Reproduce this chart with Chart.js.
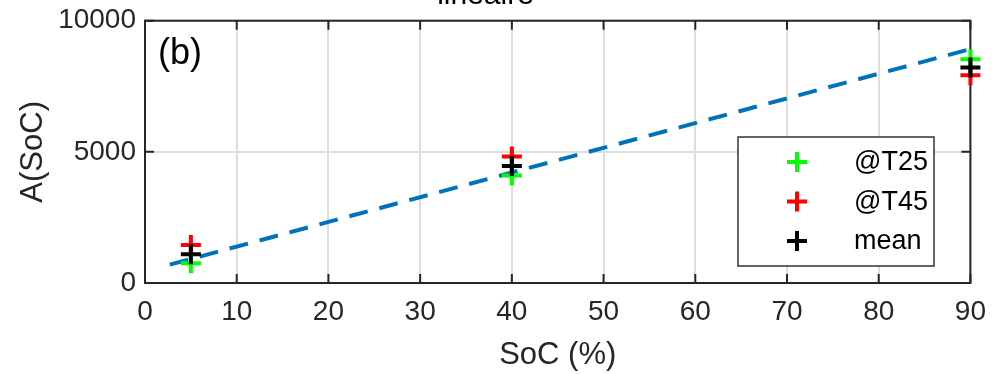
<!DOCTYPE html>
<html>
<head>
<meta charset="utf-8">
<script src="https://cdn.jsdelivr.net/npm/chart.js@4/dist/chart.umd.min.js"></script>
<style>
  html, body { margin: 0; padding: 0; background: #fff; overflow: hidden; }
  #wrap { width: 998px; height: 374px; overflow: hidden; position: relative; }
  #chart { position: absolute; left: 0; top: -30px; }
</style>
</head>
<body>
<div id="wrap"><canvas id="chart" width="998" height="404"></canvas></div>
<script>
// measured points
const soc = [5, 40, 90];
const aT25 = [750, 4100, 8530];
const aT45 = [1450, 4820, 7920];
const aMean = [1100, 4460, 8220];

// linear fit (dashed)
const fitSoc = [2.7, 90];
const fitA = [700, 8920];

const xTicks = [0, 10, 20, 30, 40, 50, 60, 70, 80, 90];
const yTicks = [0, 5000, 10000];

const FONT = "'Liberation Sans', Arial, sans-serif";
const AXIS = "#262626";

function pts(xs, ys) {
  return xs.map((x, i) => ({ x: x, y: ys[i] }));
}

// box + inward ticks, like matlab
const boxPlugin = {
  id: "box",
  beforeDatasetsDraw(chart) {
    const { ctx, chartArea: a, scales } = chart;
    ctx.save();
    ctx.strokeStyle = AXIS;
    ctx.lineWidth = 2;
    ctx.beginPath();
    xTicks.forEach(v => {
      const px = scales.x.getPixelForValue(v);
      ctx.moveTo(px, a.bottom); ctx.lineTo(px, a.bottom - 9);
      ctx.moveTo(px, a.top); ctx.lineTo(px, a.top + 9);
    });
    yTicks.forEach(v => {
      const py = scales.y.getPixelForValue(v);
      ctx.moveTo(a.left, py); ctx.lineTo(a.left + 9, py);
      ctx.moveTo(a.right, py); ctx.lineTo(a.right - 9, py);
    });
    ctx.stroke();
    ctx.strokeRect(a.left, a.top, a.right - a.left, a.bottom - a.top);
    ctx.restore();
  },
  afterDatasetsDraw(chart) {
    const { ctx } = chart;
    ctx.save();
    // panel label
    ctx.fillStyle = "#000";
    ctx.font = "36px " + FONT;
    ctx.textBaseline = "alphabetic";
    ctx.fillText("(b)", 158, 94);

    // legend box
    const lx = 738, ly = 167, lw = 196, lh = 129;
    ctx.fillStyle = "#fff";
    ctx.fillRect(lx, ly, lw, lh);
    ctx.strokeStyle = "#333";
    ctx.lineWidth = 1.5;
    ctx.strokeRect(lx, ly, lw, lh);
    const items = chart.data.datasets.filter(d => d.inLegend).reverse();
    ctx.font = "27px " + FONT;
    ctx.textBaseline = "middle";
    items.forEach((d, i) => {
      const cy = ly + 25 + i * 39.5;
      const cx = 797;
      ctx.strokeStyle = d.borderColor;
      ctx.lineWidth = 4;
      ctx.beginPath();
      ctx.moveTo(cx - 10, cy); ctx.lineTo(cx + 10, cy);
      ctx.moveTo(cx, cy - 10); ctx.lineTo(cx, cy + 10);
      ctx.stroke();
      ctx.fillStyle = "#000";
      ctx.fillText(d.label, 854, cy + 1);
    });
    ctx.restore();
  }
};

const markerStyle = {
  type: "scatter",
  showLine: false,
  pointStyle: "cross",
  pointRadius: 10,
  pointBorderWidth: 4,
  clip: false
};

new Chart(document.getElementById("chart"), {
  type: "scatter",
  data: {
    datasets: [
      Object.assign({ label: "mean", data: pts(soc, aMean), borderColor: "#000", backgroundColor: "#000", order: 0, inLegend: true }, markerStyle),
      Object.assign({ label: "@T45", data: pts(soc, aT45), borderColor: "#ff0000", backgroundColor: "#ff0000", order: 1, inLegend: true }, markerStyle),
      Object.assign({ label: "@T25", data: pts(soc, aT25), borderColor: "#00ff00", backgroundColor: "#00ff00", order: 2, inLegend: true }, markerStyle),
      {
        type: "line",
        label: "fit",
        data: pts(fitSoc, fitA),
        borderColor: "#0072bd",
        borderWidth: 4,
        borderDash: [19, 12],
        pointRadius: 0,
        fill: false,
        order: 3,
        clip: false
      }
    ]
  },
  options: {
    responsive: false,
    animation: false,
    devicePixelRatio: 1,
    layout: { padding: { left: 0, right: 27, top: 0, bottom: 0 } },
    plugins: {
      legend: { display: false },
      tooltip: { enabled: false },
      title: {
        display: true,
        text: "linéaire",
        color: "#000",
        font: { family: FONT, size: 30, weight: "normal", lineHeight: 1.2 },
        padding: { top: 7.5, bottom: 7.2 }
      }
    },
    scales: {
      x: {
        type: "linear",
        min: 0, max: 90,
        afterBuildTicks(scale) { scale.ticks = xTicks.map(v => ({ value: v })); },
        afterFit(scale) { scale.height = 91; },
        grid: { color: "#dedede", lineWidth: 2, drawTicks: false },
        border: { display: false },
        ticks: { color: AXIS, padding: 12, maxRotation: 0, font: { family: FONT, size: 28 } },
        title: {
          display: true, text: "SoC (%)", color: AXIS,
          font: { family: FONT, size: 31 }, padding: { top: 0, bottom: 0 }
        }
      },
      y: {
        type: "linear",
        min: 0, max: 10000,
        afterBuildTicks(scale) { scale.ticks = yTicks.map(v => ({ value: v })); },
        afterFit(scale) { scale.width = 145; },
        grid: { color: "#dedede", lineWidth: 2, drawTicks: false },
        border: { display: false },
        ticks: { color: AXIS, padding: 9, font: { family: FONT, size: 28 }, callback: v => String(v) },
        title: {
          display: true, text: "A(SoC)", color: AXIS,
          font: { family: FONT, size: 31 }, padding: { top: 15, bottom: 0 }
        }
      }
    }
  },
  plugins: [boxPlugin]
});
</script>
</body>
</html>
